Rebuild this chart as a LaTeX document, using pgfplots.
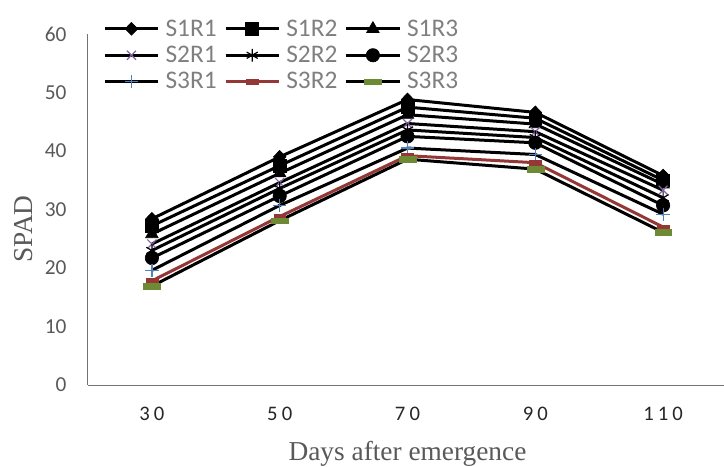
\documentclass[border=0pt]{standalone}
\usepackage{fontspec}
\setmainfont{Carlito}
\newfontfamily\seriffont{Liberation Serif}
\newfontfamily\xtickfont[LetterSpace=20]{Carlito}
\usepackage{pgfplots}
\pgfplotsset{compat=1.18}
\definecolor{txt}{HTML}{595959}
\definecolor{legtxt}{HTML}{7F7F7F}
\definecolor{axgray}{HTML}{737373}
\definecolor{cpurple}{HTML}{8064A2}
\definecolor{cblue}{HTML}{4F81BD}
\definecolor{cred}{HTML}{953735}
\definecolor{cgreen}{HTML}{6F8A35}
\begin{document}
\begin{tikzpicture}
\useasboundingbox (-66pt,-61.5pt) rectangle (477pt,288.75pt);
\begin{axis}[
  scale only axis, width=479.25pt, height=263.25pt,
  xmin=-0.5, xmax=4.5, ymin=0, ymax=60,
  xtick={0,1,2,3,4},
  xticklabels={30,50,70,90,110},
  ytick={0,10,20,30,40,50,60},
  /pgf/number format/assume math mode=true,
  axis x line=bottom, axis y line=left,
  axis line style={-, draw=axgray, line width=0.75pt},
  major tick length=0pt,
  yticklabel style={font=\fontsize{16pt}{18pt}\selectfont, text=txt, anchor=east, inner sep=0pt, xshift=-16pt},
  xticklabel style={font=\fontsize{15.5pt}{18pt}\selectfont\xtickfont, text=black!85, anchor=north, inner sep=0pt, yshift=-16.5pt},
  xlabel={Days after emergence},
  xlabel style={at={(rel axis cs:0.5,0)}, anchor=base, yshift=-56.25pt, font=\fontsize{20.5pt}{24pt}\selectfont\seriffont, text=txt},
  ylabel={SPAD},
  ylabel style={at={(axis description cs:-0.0876,0.444)}, anchor=base, font=\fontsize{20.5pt}{24pt}\selectfont\seriffont, text=txt},
  legend columns=3,
  legend cell align=left,
  legend style={draw=none, fill=none, at={(rel axis cs:0.0235,1)}, anchor=north west, yshift=13pt,
    font=\fontsize{19pt}{21pt}\selectfont, text=legtxt, inner sep=0pt, row sep=2pt,
    /tikz/every odd column/.append style={column sep=2.5pt},
    /tikz/every even column/.append style={column sep=3.5pt}},
  legend image code/.code={\draw[mark repeat=2,mark phase=2] plot coordinates {(0pt,0pt) (20pt,0pt) (40pt,0pt)};},
  every axis plot/.append style={line width=2.25pt},
  clip=false,
]
\addplot[black, mark=diamond*, mark size=4.8pt, mark options={solid, fill=black, line width=0.5pt, xscale=1.3}] coordinates {(0,28.4) (1,39.0) (2,48.8) (3,46.6) (4,35.8)};
\addlegendentry{S1R1}
\addplot[black, mark=square*, mark size=4.8pt, mark options={solid, fill=black, line width=0.5pt}] coordinates {(0,27.2) (1,37.5) (2,47.5) (3,45.6) (4,35.0)};
\addlegendentry{S1R2}
\addplot[black, mark=triangle*, mark size=5.4pt, mark options={solid, fill=black, line width=0.5pt}] coordinates {(0,25.8) (1,36.2) (2,46.2) (3,44.6) (4,34.3)};
\addlegendentry{S1R3}
\addplot[black, mark=x, mark size=4.8pt, mark options={solid, draw=cpurple, line width=0.9pt}] coordinates {(0,24.1) (1,34.6) (2,44.7) (3,43.3) (4,33.3)};
\addlegendentry{S2R1}
\addplot[black, mark=asterisk, mark size=4.8pt, mark options={solid, draw=black, line width=0.9pt}] coordinates {(0,23.0) (1,33.6) (2,43.6) (3,42.3) (4,32.0)};
\addlegendentry{S2R2}
\addplot[black, mark=*, mark size=5pt, mark options={solid, fill=black, line width=0.5pt}] coordinates {(0,21.7) (1,32.3) (2,42.5) (3,41.4) (4,30.7)};
\addlegendentry{S2R3}
\addplot[black, mark=+, mark size=5pt, mark options={solid, draw=cblue, line width=0.9pt}] coordinates {(0,19.6) (1,30.7) (2,40.5) (3,39.4) (4,29.2)};
\addlegendentry{S3R1}
\addplot[cred, mark=square*, mark size=3.2pt, mark options={solid, fill=cred, draw=cred, line width=0.3pt, xscale=1.4, yscale=0.55}] coordinates {(0,17.8) (1,28.8) (2,39.2) (3,38.0) (4,27.0)};
\addlegendentry{S3R2}
\addplot[black, mark=square*, mark size=3.6pt, mark options={solid, fill=cgreen, draw=cgreen, line width=0.3pt, xscale=1.75, yscale=0.6}] coordinates {(0,16.9) (1,28.1) (2,38.6) (3,36.9) (4,26.1)};
\addlegendentry{S3R3}
\end{axis}
\end{tikzpicture}
\end{document}
